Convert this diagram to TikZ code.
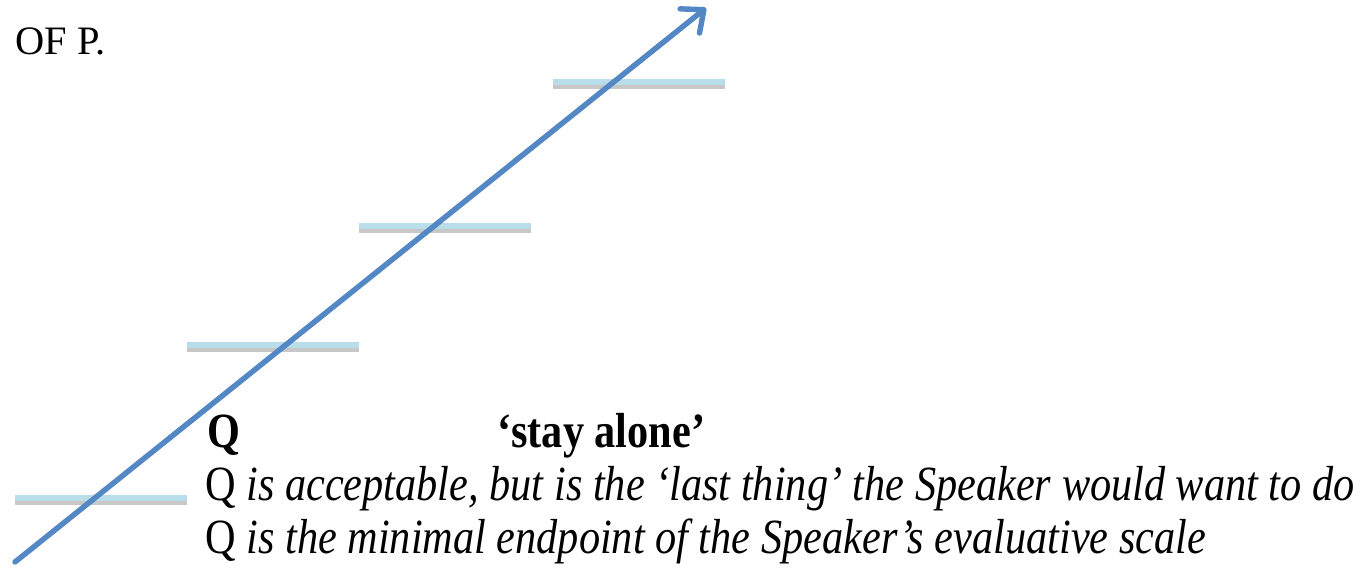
\documentclass[tikz,border=0pt]{standalone}
\usepackage{fontspec}
\setmainfont{Liberation Serif}
\newfontfamily\slidefont[FakeStretch=0.86, Ligatures=TeX]{Liberation Serif}
\usetikzlibrary{arrows.meta}
\definecolor{scaleblue}{RGB}{84,136,196}
\definecolor{rungblue}{RGB}{186,222,233}
\tikzset{
  rung/.style={rungblue, line width=2.9pt},
  rungshadow/.style={black!22, line width=3.2pt},
  txt/.style={anchor=base west, inner sep=0pt, font=\slidefont\fontsize{28}{30}\selectfont}
}
\begin{document}
\begin{tikzpicture}[x=0.02cm, y=-0.02cm]
  \useasboundingbox (0,0) rectangle (1371,570);
  \def\half{86}

  % rungs of the scale
  \foreach \name/\cx/\cy in {r1/101/498, r2/272.5/345, r3/444.5/226, r4/638.5/82}{
    \coordinate (\name l) at (\cx-\half,\cy);
    \coordinate (\name r) at (\cx+\half,\cy);
    \draw[rungshadow] ([yshift=-0.08cm]\name l) -- ([yshift=-0.08cm]\name r);
    \draw[rung] (\name l) -- (\name r);
  }

  % the evaluative scale
  \coordinate (base) at (15,562);
  \coordinate (tip) at (706,8);
  \draw[scaleblue, line width=3.1pt, line cap=round,
        -{Straight Barb[length=0.36cm, width=0.62cm, line join=round, line cap=round]}]
    (base) -- (tip);

  \node[anchor=base west, inner sep=0pt, font=\fontsize{23}{25}\selectfont] (ofp) at (15,55) {OF P.};
  \node[txt, font=\slidefont\fontsize{28}{30}\selectfont\bfseries] (q) at (207,447) {Q};
  \node[txt, font=\slidefont\fontsize{28}{30}\selectfont\bfseries] (stay) at (497,447) {`stay alone'};
  \node[txt] (last) at (205,500) {Q \itshape is acceptable, but is the `last thing' the Speaker would want to do};
  \node[txt] (minimal) at (205,553) {Q \itshape is the minimal endpoint of the Speaker's evaluative scale};
\end{tikzpicture}
\end{document}
